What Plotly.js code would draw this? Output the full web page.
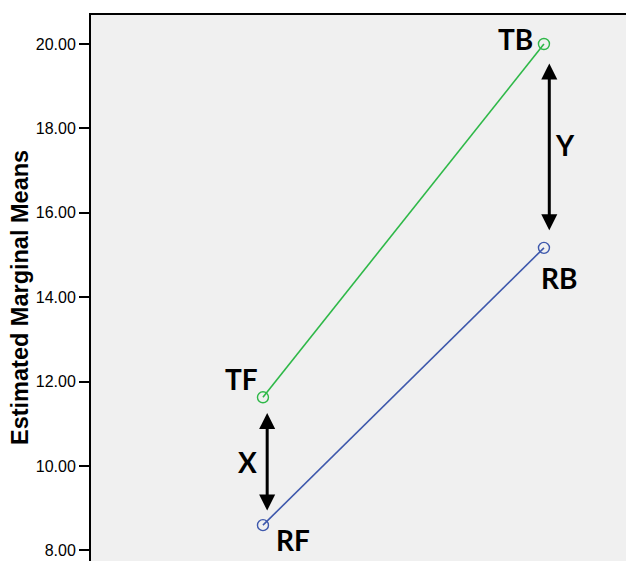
<!DOCTYPE html>
<html>
<head>
<meta charset="utf-8">
<script src="https://cdn.plot.ly/plotly-3.0.1.min.js"></script>
<style>html,body{margin:0;padding:0;background:#fff;}#chart{width:626px;height:561px;}</style>
</head>
<body>
<div id="chart"></div>
<script>
// Data
var categories = ['F', 'B'];
var seriesT = [11.63, 20.00];
var seriesR = [8.60, 15.17];
var labelsT = ['TF', 'TB'];
var labelsR = ['RF', 'RB'];
var tickVals = [8, 10, 12, 14, 16, 18, 20];
var tickText = ['8.00', '10.00', '12.00', '14.00', '16.00', '18.00', '20.00'];
var diffLabels = ['X', 'Y'];

var GREEN = 'rgb(46,184,72)';
var BLUE = 'rgb(62,88,172)';
var labelFont = {family: 'Lato, Roboto, sans-serif', size: 28, color: '#000', weight: 'bold'};

var traces = [
  {x: categories, y: seriesT, type: 'scatter', mode: 'lines+markers',
   line: {color: GREEN, width: 1.6},
   marker: {symbol: 'circle-open', size: 11, color: GREEN, line: {width: 1.4, color: GREEN}},
   hoverinfo: 'skip', showlegend: false, cliponaxis: false},
  {x: categories, y: seriesR, type: 'scatter', mode: 'lines+markers',
   line: {color: BLUE, width: 1.6},
   marker: {symbol: 'circle-open', size: 11, color: BLUE, line: {width: 1.4, color: BLUE}},
   hoverinfo: 'skip', showlegend: false, cliponaxis: false}
];

var annotations = [];
// point labels
var tOffsets = [[-21, 18], [-28, 5]];
var rOffsets = [[30, -15], [15, -30]];
categories.forEach(function (c, i) {
  annotations.push({x: c, y: seriesT[i], xref: 'x', yref: 'y', text: labelsT[i], showarrow: false,
    font: labelFont, xanchor: 'center', yanchor: 'middle', xshift: tOffsets[i][0], yshift: tOffsets[i][1]});
  annotations.push({x: c, y: seriesR[i], xref: 'x', yref: 'y', text: labelsR[i], showarrow: false,
    font: labelFont, xanchor: 'center', yanchor: 'middle', xshift: rOffsets[i][0], yshift: rOffsets[i][1]});
});
// difference arrows (double-headed) between the two series
var arrowX = [0.015, 0.019];
var gapTop = [0.37, 0.46];
var gapBot = [0.31, 0.38];
var labelShift = [[-20, 0], [16, 3]];
categories.forEach(function (c, i) {
  var top = seriesT[i] - gapTop[i];
  var bot = seriesR[i] + gapBot[i];
  annotations.push({x: i + arrowX[i], y: top, ax: i + arrowX[i], ay: bot, xref: 'x', yref: 'y', axref: 'x', ayref: 'y',
    text: '', showarrow: true, arrowhead: 2, startarrowhead: 2, arrowside: 'end+start',
    arrowwidth: 3, arrowsize: 1.07, startarrowsize: 1.07, arrowcolor: '#000', standoff: 0, startstandoff: 0});
  annotations.push({x: i + arrowX[i], y: (top + bot) / 2, xref: 'x', yref: 'y', text: diffLabels[i], showarrow: false,
    font: labelFont, xanchor: 'center', yanchor: 'middle', xshift: labelShift[i][0], yshift: labelShift[i][1]});
});
// y-axis title
annotations.push({xref: 'paper', yref: 'paper', x: -0.1327, y: 0.4817, text: 'Estimated Marginal Means',
  textangle: -90, showarrow: false, xanchor: 'center', yanchor: 'middle',
  font: {family: 'Liberation Sans, Arial, sans-serif', size: 23.5, color: '#000', weight: 'bold'}});

var layout = {
  width: 626, height: 561,
  margin: {l: 91, r: 0, t: 15, b: 0, pad: 0},
  paper_bgcolor: '#ffffff',
  plot_bgcolor: '#f0f0f0',
  showlegend: false,
  xaxis: {type: 'category', range: [-0.612, 1.292], side: 'top', showline: true, linecolor: '#000', linewidth: 2,
    showgrid: false, zeroline: false, showticklabels: false, ticks: '', fixedrange: true},
  yaxis: {range: [7.751, 20.687], tickvals: tickVals, ticktext: tickText, ticks: 'outside', ticklen: 10, tickwidth: 2,
    tickcolor: '#000', showline: true, linecolor: '#000', linewidth: 2, showgrid: false, zeroline: false,
    tickfont: {family: 'Liberation Sans, Arial, sans-serif', size: 16, color: '#000'}, fixedrange: true},
  annotations: annotations
};

Plotly.newPlot('chart', traces, layout, {displayModeBar: false, staticPlot: true});
</script>
</body>
</html>
